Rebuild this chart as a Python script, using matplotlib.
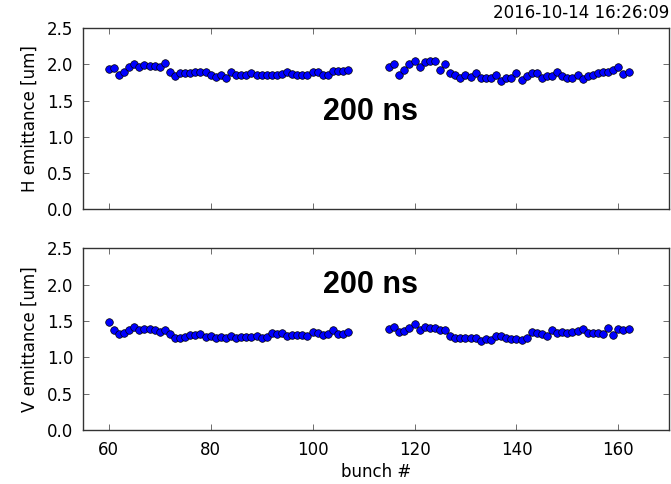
"""
Two-panel plot of horizontal and vertical emittance per bunch (200 ns spacing).
"""
import matplotlib
matplotlib.use("Agg")
import matplotlib.pyplot as plt

TIMESTAMP = "2016-10-14 16:26:09"
LABEL = "200 ns"

bunches = list(range(60, 108)) + list(range(115, 163))

h_emittance = [
    1.94, 1.95, 1.86, 1.90, 1.96, 2.01, 1.96, 1.99, 1.98, 1.98, 1.97, 2.02,
    1.89, 1.84, 1.88, 1.88, 1.88, 1.89, 1.89, 1.89, 1.86, 1.83, 1.86, 1.81,
    1.89, 1.86, 1.86, 1.85, 1.88, 1.86, 1.85, 1.85, 1.86, 1.86, 1.87, 1.89,
    1.87, 1.85, 1.85, 1.85, 1.89, 1.90, 1.86, 1.86, 1.91, 1.91, 1.91, 1.92,
    # second train
    1.96, 2.01, 1.86, 1.92, 2.00, 2.05, 1.97, 2.04, 2.05, 2.05, 1.92, 2.01,
    1.88, 1.86, 1.82, 1.85, 1.83, 1.88, 1.82, 1.81, 1.82, 1.85, 1.77, 1.82,
    1.82, 1.88, 1.79, 1.84, 1.88, 1.88, 1.81, 1.84, 1.84, 1.89, 1.84, 1.82,
    1.81, 1.85, 1.80, 1.84, 1.86, 1.88, 1.90, 1.89, 1.92, 1.96, 1.87, 1.90,
]

v_emittance = [
    1.49, 1.37, 1.32, 1.33, 1.38, 1.42, 1.37, 1.39, 1.39, 1.38, 1.35, 1.38,
    1.32, 1.27, 1.27, 1.28, 1.31, 1.31, 1.32, 1.28, 1.30, 1.27, 1.28, 1.26,
    1.30, 1.27, 1.28, 1.28, 1.28, 1.30, 1.27, 1.28, 1.34, 1.32, 1.34, 1.30,
    1.31, 1.31, 1.31, 1.30, 1.35, 1.34, 1.31, 1.32, 1.38, 1.32, 1.32, 1.35,
    # second train
    1.39, 1.42, 1.35, 1.36, 1.41, 1.46, 1.37, 1.42, 1.41, 1.40, 1.37, 1.37,
    1.29, 1.27, 1.26, 1.26, 1.26, 1.27, 1.22, 1.25, 1.24, 1.30, 1.30, 1.26,
    1.25, 1.25, 1.24, 1.26, 1.35, 1.34, 1.32, 1.30, 1.37, 1.33, 1.35, 1.33,
    1.35, 1.36, 1.39, 1.33, 1.34, 1.34, 1.32, 1.41, 1.31, 1.39, 1.37, 1.39,
]

X_TICKS = [60, 80, 100, 120, 140, 160]
Y_TICKS = [0.0, 0.5, 1.0, 1.5, 2.0, 2.5]


def style_axis(ax):
    ax.set_xlim(55, 170)
    ax.set_ylim(0, 2.5)
    ax.set_xticks(X_TICKS)
    ax.set_yticks(Y_TICKS)
    ax.yaxis.set_major_formatter(plt.FormatStrFormatter("%.1f"))
    ax.tick_params(direction="in", top=True, right=True, length=4,
                   width=0.6, labelsize=12, color="#555555")
    ax.tick_params(axis="y", pad=7)
    ax.tick_params(axis="x", pad=8)
    for spine in ax.spines.values():
        spine.set_linewidth(1.0)
        spine.set_color("#333333")


def main():
    plt.rcParams["font.family"] = ["DejaVu Sans"]
    fig = plt.figure(figsize=(6.71, 4.84), dpi=100)
    ax_h = fig.add_axes([0.1241, 0.5676, 0.8734, 0.3740])
    ax_v = fig.add_axes([0.1241, 0.1116, 0.8734, 0.3754])

    for ax, values, ylabel, label_y in [
        (ax_h, h_emittance, "H emittance [um]", 1.34),
        (ax_v, v_emittance, "V emittance [um]", 2.0),
    ]:
        ax.scatter(bunches, values, s=30, c="blue", edgecolors="black",
                   linewidths=0.5, zorder=3)
        style_axis(ax)
        ax.set_ylabel(ylabel, fontsize=12, labelpad=6)
        ax.text(111.4, label_y, LABEL, fontsize=22, fontweight="bold",
                family=["Liberation Sans", "DejaVu Sans"],
                ha="center", va="center")

    ax_h.tick_params(labelbottom=False)
    ax_v.set_xlabel("bunch #", fontsize=12, labelpad=3)

    fig.text(0.9975, 0.973, TIMESTAMP, fontsize=12, ha="right", va="center")
    fig.savefig("out.png", dpi=100, facecolor="white")


if __name__ == "__main__":
    main()
